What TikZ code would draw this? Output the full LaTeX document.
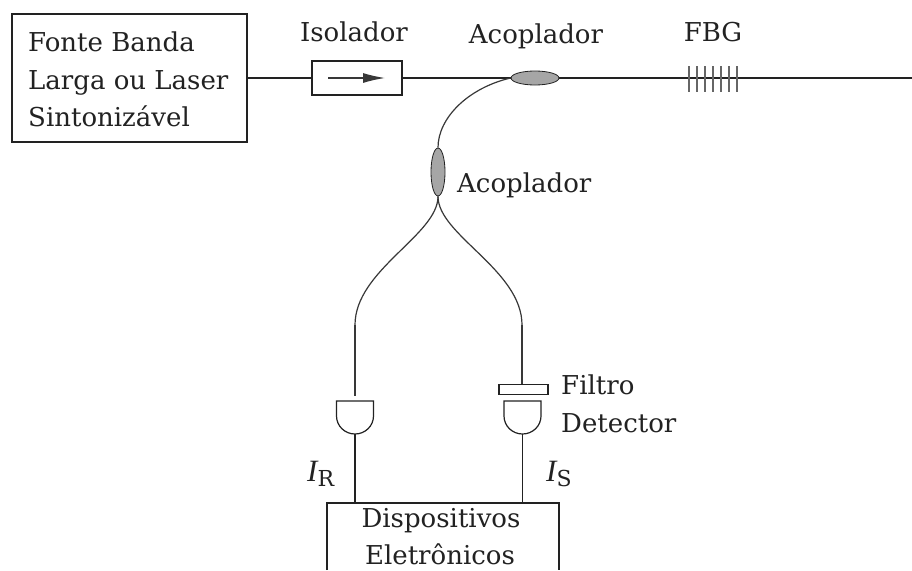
\documentclass[tikz,border=0pt]{standalone}
\usepackage{fontspec}
\setmainfont{DejaVu Serif}
\newfontfamily\curfont{Liberation Serif}
\usetikzlibrary{shapes.geometric,arrows.meta}
\definecolor{ink}{HTML}{222222}
\tikzset{
  x=1pt,y=-1pt,
  fiber/.style={draw=ink,line width=1.3pt},
  thinfiber/.style={draw=ink!90,line width=1.2pt},
  boxed/.style={draw=ink,line width=1.3pt,inner sep=0pt,fill=white},
  coupler/.style={ellipse,draw=ink,line width=.8pt,fill=gray!70,inner sep=0pt},
  lbl/.style={font=\fontsize{26}{30}\selectfont,text=ink,inner sep=0pt},
  cur/.style={font=\curfont\fontsize{31}{34}\selectfont,text=ink,inner sep=0pt},
  gratingline/.style={draw=gray!80!black,line width=1.4pt},
  detectorshape/.style={draw=ink,line width=1.2pt,fill=white}
}
\begin{document}
\begin{tikzpicture}
\useasboundingbox (0,0) rectangle (912,570);
\fill[white] (0,0) rectangle (912,570);
\coordinate (end) at (912,78);
\coordinate (c1c) at (535,78);
\coordinate (c2c) at (438,172);
\node[boxed,minimum width=235pt,minimum height=128pt] (src) at (129.5,78) {};
\node[lbl,anchor=base west] (srct1) at (28,51) {Fonte Banda};
\node[lbl,anchor=base west] (srct2) at (28,89) {Larga ou Laser};
\node[lbl,anchor=base west] (srct3) at (28,126) {Sintonizável};
\node[boxed,minimum width=90pt,minimum height=34pt] (iso) at (357,78) {};
\coordinate (arrA) at (328,78);
\coordinate (arrB) at (385,78);
\draw[thinfiber,-{Latex[length=22pt,width=10pt]}] (arrA) -- (arrB);
\draw[fiber] (src.east |- 0,78) -- (iso.west);
\draw[fiber] (iso.east) -- (end);
\node[lbl,anchor=base] (isot) at (354,41) {Isolador};
\node[lbl,anchor=base] (ac1t) at (536,43) {Acoplador};
\node[lbl,anchor=base] (fbgt) at (713,41) {FBG};
\node[lbl,anchor=base west] (ac2t) at (457,192) {Acoplador};
\node[lbl,anchor=base west] (filt) at (561,394) {Filtro};
\node[lbl,anchor=base west] (dett) at (561,432) {Detector};
\foreach \i in {0,...,6}{
  \draw[gratingline] (689+8*\i,66) -- (689+8*\i,92);
}
\node[coupler,minimum width=48pt,minimum height=14pt] (c1) at (c1c) {};
\node[coupler,minimum width=14pt,minimum height=48pt] (c2) at (c2c) {};
\coordinate (l1) at (355,325);
\coordinate (r1) at (522,325);
\draw[thinfiber] (c2.north) .. controls (438,118) and (468,88) .. (c1.west);
\draw[thinfiber] (c2.south) .. controls (438,235) and (355,270) .. (l1);
\draw[thinfiber] (c2.south) .. controls (438,235) and (522,270) .. (r1);
\node[boxed,minimum width=49pt,minimum height=10pt] (filter) at (523.5,389.5) {};
\draw[detectorshape] (336.5,401) -- (373.5,401) -- (373.5,416)
  arc[start angle=0,end angle=-180,x radius=18.5pt,y radius=18pt] -- cycle;
\draw[detectorshape] (504,401) -- (541,401) -- (541,416)
  arc[start angle=0,end angle=-180,x radius=18.5pt,y radius=18pt] -- cycle;
\coordinate (ldb) at (355,434);
\coordinate (rdb) at (522.5,434);
\coordinate (lt) at (355,396);
\draw[thinfiber] (l1) -- (lt);
\draw[thinfiber] (r1) -- (filter.north -| r1);
\coordinate (bl) at (327,570);
\coordinate (tl) at (327,503);
\coordinate (tr) at (559,503);
\coordinate (br) at (559,570);
\draw[fiber] (bl) -- (tl) -- (tr) -- (br);
\draw[fiber] (ldb) -- (ldb |- tl);
\draw[fiber] (rdb) -- (rdb |- tl);
\node[lbl,anchor=base] (elt1) at (441,527) {Dispositivos};
\node[lbl,anchor=base] (elt2) at (440,564) {Eletrônicos};
\node[cur,anchor=base west] (ir) at (307,481) {\itshape I\raisebox{-5pt}{\normalfont\fontsize{22}{24}\selectfont R}};
\node[cur,anchor=base west] (is) at (546,481) {\itshape I\raisebox{-5pt}{\normalfont\fontsize{22}{24}\selectfont S}};
\end{tikzpicture}
\end{document}
